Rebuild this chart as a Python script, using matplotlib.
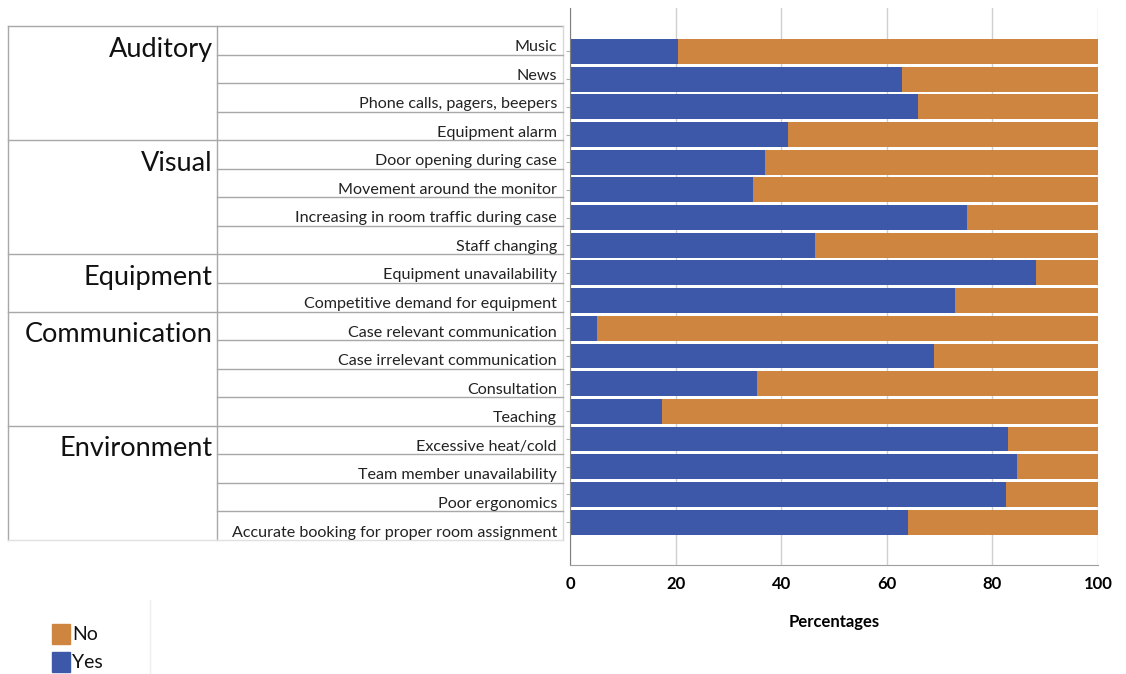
import matplotlib.pyplot as plt
from matplotlib.patches import Rectangle

plt.rcParams['font.family'] = ['Lato', 'DejaVu Sans']

groups = ['Auditory', 'Visual', 'Equipment', 'Communication', 'Environment']
group_sizes = [4, 4, 2, 4, 4]
items = ['Music', 'News', 'Phone calls, pagers, beepers', 'Equipment alarm',
         'Door opening during case', 'Movement around the monitor',
         'Increasing in room traffic during case', 'Staff changing',
         'Equipment unavailability', 'Competitive demand for equipment',
         'Case relevant communication', 'Case irrelevant communication',
         'Consultation', 'Teaching',
         'Excessive heat/cold', 'Team member unavailability', 'Poor ergonomics',
         'Accurate booking for proper room assignment']
yes = [20.5, 62.8, 65.9, 41.2, 36.9, 34.7, 75.2, 46.4, 88.2,
       72.9, 5.2, 69.0, 35.5, 17.5, 82.9, 84.7, 82.5, 64.0]
no = [79.5, 37.2, 34.1, 58.8, 63.1, 65.3, 24.8, 53.6, 11.8,
      27.1, 94.8, 31.0, 64.5, 82.5, 17.1, 15.3, 17.5, 36.0]

blue = '#3d58a8'
orange = '#cd853f'

fig = plt.figure(figsize=(11.26, 6.74), dpi=100)

# main bar chart
ax = fig.add_axes([570 / 1126, 109 / 674, 528 / 1126, 557 / 674])
pos = list(range(len(items)))
ax.barh(pos, yes, height=0.9, color=blue, zorder=2)
ax.barh(pos, no, left=yes, height=0.9, color=orange, zorder=2)
ax.set_xlim(0, 100)
ax.set_ylim(18.55, -1.57)
ax.set_xticks([0, 20, 40, 60, 80, 100])
ax.set_xticklabels(['0', '20', '40', '60', '80', '100'], fontsize=12, fontweight='bold')
ax.set_yticks(pos)
ax.set_yticklabels([])
ax.tick_params(axis='y', length=3, color='#b0b0b0')
ax.tick_params(axis='x', length=0, pad=8)
ax.grid(axis='x', color='#cfcfcf', lw=1, zorder=0)
ax.set_axisbelow(True)
for s in ['top', 'right']:
    ax.spines[s].set_visible(False)
ax.spines['left'].set_color('#7f7f7f')
ax.spines['bottom'].set_color('#9f9f9f')
ax.set_xlabel('Percentages', fontsize=12, fontweight='bold', labelpad=16)

# table of categories on the left (pixel coordinates)
tb = fig.add_axes([0, 0, 1, 1], zorder=-1)
tb.set_xlim(0, 1126)
tb.set_ylim(674, 0)
tb.axis('off')
lc = '#a8a8a8'
top, bottom = 26, 540
x0, xm, x1 = 8, 217, 563
rh = (bottom - top) / len(items)
tb.plot([x0, x1], [top, top], color=lc, lw=1)
tb.plot([x0, x0], [top, bottom], color=lc, lw=1)
tb.plot([xm, xm], [top, bottom], color=lc, lw=1)
tb.plot([x1, x1], [top, bottom], color='#d8d8d8', lw=1)
for i, name in enumerate(items):
    yb = top + (i + 1) * rh
    tb.plot([xm, x1], [yb, yb], color=lc if i < len(items) - 1 else '#e0e0e0', lw=1)
    tb.text(557, yb - 3.5, name, ha='right', va='baseline', fontsize=11.6, color='#222222')
start = 0
for g, n in zip(groups, group_sizes):
    tb.text(213, top + (start + 1) * rh + 2, g, ha='right', va='baseline',
            fontsize=19.5, color='#111111')
    start += n
    yb = top + start * rh
    tb.plot([x0, xm], [yb, yb], color=lc if start < len(items) else '#e0e0e0', lw=1)
tb.plot([150, 150], [600, 674], color='#eeeeee', lw=1)

# legend drawn by hand
for label, col, yc in [('No', orange, 634), ('Yes', blue, 662)]:
    tb.add_patch(Rectangle((52, yc - 10), 18, 20, color=col))
    tb.text(72, yc + 1, label, ha='left', va='center', fontsize=14, color='#111111')

fig.savefig('out.png', dpi=100)
